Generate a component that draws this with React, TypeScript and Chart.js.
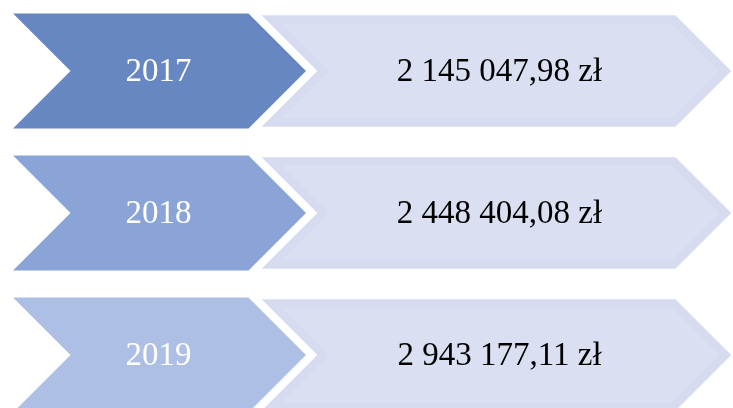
import React, { useEffect, useRef } from "react";
import { Chart, registerables } from "chart.js";

Chart.register(...registerables);

// ---- data ----
const years: string[] = ["2017", "2018", "2019"];
const amounts: number[] = [2145047.98, 2448404.08, 2943177.11];
const currency = "zł";

// ---- layout / style ----
const W = 733;
const H = 426;
const VIEW_H = 408;
const LEFT_RANGE: [number, number] = [13, 306];
const RIGHT_RANGE: [number, number] = [262, 731];
const yearColors = ["#6787C3", "#8BA4D7", "#ADBFE5"];
const valueFill = "#DADFF1";
const valueBand = "#D6DBEF";
const FONT = '"Liberation Serif", "Times New Roman", serif';

function formatAmount(v: number): string {
  const [intPart, dec] = v.toFixed(2).split(".");
  const grouped = intPart.replace(/\B(?=(\d{3})+(?!\d))/g, " ");
  return `${grouped},${dec} ${currency}`;
}

function chevronPath(ctx: CanvasRenderingContext2D, L: number, R: number, cy: number, h: number) {
  const top = cy - h / 2;
  const bottom = cy + h / 2;
  const d = h / 2;
  ctx.beginPath();
  ctx.moveTo(L, top);
  ctx.lineTo(R - d, top);
  ctx.lineTo(R, cy);
  ctx.lineTo(R - d, bottom);
  ctx.lineTo(L, bottom);
  ctx.lineTo(L + d, cy);
  ctx.closePath();
}

const chevronPlugin = {
  id: "chevrons",
  beforeDatasetsDraw(chart: any) {
    const ctx: CanvasRenderingContext2D = chart.ctx;
    const leftMeta = chart.getDatasetMeta(0);
    const rightMeta = chart.getDatasetMeta(1);

    // right (value) chevrons first
    rightMeta.data.forEach((el: any, i: number) => {
      const { x, y, base, height } = el.getProps(["x", "y", "base", "height"], true);
      const L = Math.min(x, base);
      const R = Math.max(x, base);
      ctx.save();
      chevronPath(ctx, L, R, y, height);
      ctx.fillStyle = valueFill;
      ctx.fill();
      ctx.clip();
      ctx.lineWidth = 16;
      ctx.strokeStyle = valueBand;
      ctx.lineJoin = "miter";
      ctx.stroke();
      ctx.restore();

      ctx.save();
      ctx.fillStyle = "#000000";
      ctx.font = `33px ${FONT}`;
      ctx.textAlign = "center";
      ctx.textBaseline = "alphabetic";
      ctx.fillText(formatAmount(amounts[i]), (L + R) / 2 + 3, y + 10);
      ctx.restore();
    });

    // left (year) chevrons
    leftMeta.data.forEach((el: any, i: number) => {
      const { x, y, base, height } = el.getProps(["x", "y", "base", "height"], true);
      const L = Math.min(x, base);
      const R = Math.max(x, base);
      ctx.save();
      chevronPath(ctx, L, R, y, height);
      ctx.fillStyle = yearColors[i % yearColors.length];
      ctx.fill();
      ctx.fillStyle = "#FFFFFF";
      ctx.font = `33px ${FONT}`;
      ctx.textAlign = "center";
      ctx.textBaseline = "alphabetic";
      ctx.fillText(years[i], (L + R) / 2 - 1, y + 10);
      ctx.restore();
    });
    return false;
  },
};

export default function App() {
  const canvasRef = useRef<HTMLCanvasElement | null>(null);

  useEffect(() => {
    document.body.style.margin = "0";
    const canvas = canvasRef.current;
    if (!canvas) return;
    const chart = new Chart(canvas, {
      type: "bar",
      data: {
        labels: years,
        datasets: [
          {
            label: "Rok",
            data: years.map(() => LEFT_RANGE) as any,
            backgroundColor: yearColors,
            grouped: false,
            categoryPercentage: 1,
            barPercentage: 115 / 142,
          } as any,
          {
            label: "Kwota",
            data: amounts.map(() => RIGHT_RANGE) as any,
            backgroundColor: valueFill,
            grouped: false,
            categoryPercentage: 1,
            barPercentage: 111 / 142,
          } as any,
        ],
      },
      options: {
        indexAxis: "y",
        responsive: false,
        animation: false,
        devicePixelRatio: 1,
        layout: { padding: 0 },
        plugins: {
          legend: { display: false },
          tooltip: { enabled: false },
          title: { display: false },
        },
        scales: {
          x: { type: "linear", min: 0, max: W, display: false },
          y: { type: "category", display: false, offset: true },
        },
      },
      plugins: [chevronPlugin],
    });
    return () => chart.destroy();
  }, []);

  return (
    <div style={{ width: W, height: VIEW_H, overflow: "hidden", background: "#fff" }}>
      <canvas ref={canvasRef} width={W} height={H} style={{ display: "block", width: W, height: H }} />
    </div>
  );
}
